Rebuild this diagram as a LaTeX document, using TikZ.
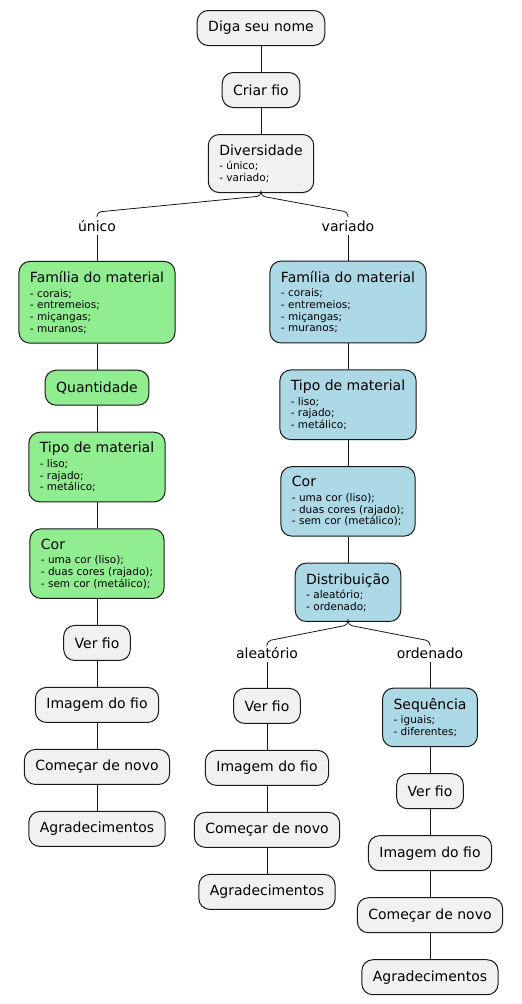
\documentclass[tikz,border=0pt]{standalone}
\usepackage{fontspec}
\setmainfont{DejaVu Sans}
\usetikzlibrary{positioning}
\definecolor{cinza}{HTML}{F1F1F1}
\definecolor{verde}{HTML}{90EE90}
\definecolor{azul}{HTML}{ADD8E6}
\definecolor{borda}{HTML}{181818}
\newcommand{\titulo}[1]{{\fontsize{14}{16}\selectfont #1}}

\begin{document}
\begin{tikzpicture}[
    x=1pt, y=-1pt,
    node distance=26pt,
    acao/.style={draw=borda, line width=1pt, fill=cinza, rounded corners=11pt, inner xsep=11pt, minimum height=35pt, font=\fontsize{14}{16}\selectfont},
    lista/.style={acao, align=left, inner ysep=10pt, font=\fontsize{10.5}{11.6}\selectfont},
    rotulo/.style={inner xsep=2pt, inner ysep=3pt, font=\fontsize{14}{16}\selectfont},
    liga/.style={draw=borda, line width=0.8pt}
]
\useasboundingbox (0,0) rectangle (522,1004);

% tronco
\node[acao] (nome) at (261,28) {Diga seu nome};
\node[acao, below=of nome] (criar) {Criar fio};
\node[lista, below=of criar] (div) {\titulo{Diversidade}\\[3pt] - único;\\ - variado;};

\node[rotulo] (unico) at (97,226) {único};
\node[rotulo] (variado) at (348,226) {variado};

% ramo único
\node[lista, fill=verde, below=of unico] (famU) {\titulo{Família do material}\\[3pt] - corais;\\ - entremeios;\\ - miçangas;\\ - muranos;};
\node[acao, fill=verde, below=of famU] (qtd) {Quantidade};
\node[lista, fill=verde, below=of qtd] (tipoU) {\titulo{Tipo de material}\\[3pt] - liso;\\ - rajado;\\ - metálico;};
\node[lista, fill=verde, below=of tipoU] (corU) {\titulo{Cor}\\[3pt] - uma cor (liso);\\ - duas cores (rajado);\\ - sem cor (metálico);};
\node[acao, below=of corU] (verU) {Ver fio};
\node[acao, below=of verU] (imgU) {Imagem do fio};
\node[acao, below=of imgU] (novoU) {Começar de novo};
\node[acao, below=of novoU] (agrU) {Agradecimentos};

% ramo variado
\node[lista, fill=azul, below=of variado] (famV) {\titulo{Família do material}\\[3pt] - corais;\\ - entremeios;\\ - miçangas;\\ - muranos;};
\node[lista, fill=azul, below=of famV] (tipoV) {\titulo{Tipo de material}\\[3pt] - liso;\\ - rajado;\\ - metálico;};
\node[lista, fill=azul, below=of tipoV] (corV) {\titulo{Cor}\\[3pt] - uma cor (liso);\\ - duas cores (rajado);\\ - sem cor (metálico);};
\node[lista, fill=azul, below=of corV] (dist) {\titulo{Distribuição}\\[3pt] - aleatório;\\ - ordenado;};

\node[rotulo] (aleat) at (267,653) {aleatório};
\node[rotulo] (orden) at (430,653) {ordenado};

\node[acao, below=of aleat] (verA) {Ver fio};
\node[acao, below=of verA] (imgA) {Imagem do fio};
\node[acao, below=of imgA] (novoA) {Começar de novo};
\node[acao, below=of novoA] (agrA) {Agradecimentos};

\node[lista, fill=azul, below=of orden] (seq) {\titulo{Sequência}\\[3pt] - iguais;\\ - diferentes;};
\node[acao, below=of seq] (verO) {Ver fio};
\node[acao, below=of verO] (imgO) {Imagem do fio};
\node[acao, below=of imgO] (novoO) {Começar de novo};
\node[acao, below=of novoO] (agrO) {Agradecimentos};

% ligacoes
\foreach \a/\b in {nome/criar, criar/div, unico/famU, famU/qtd, qtd/tipoU, tipoU/corU, corU/verU, verU/imgU, imgU/novoU, novoU/agrU,
    variado/famV, famV/tipoV, tipoV/corV, corV/dist, aleat/verA, verA/imgA, imgA/novoA, novoA/agrA,
    orden/seq, seq/verO, verO/imgO, imgO/novoO, novoO/agrO}
  \draw[liga] (\a) -- (\b);

\coordinate[below=19pt of div.south] (ramo1);
\coordinate[below=19pt of dist.south] (ramo2);
\draw[liga, rounded corners=4pt] (div.south) -- ++(0,3) -- (ramo1 -| unico) -- (unico.north);
\draw[liga, rounded corners=4pt] (div.south) -- ++(0,3) -- (ramo1 -| variado) -- (variado.north);
\draw[liga, rounded corners=4pt] (dist.south) -- ++(0,3) -- (ramo2 -| aleat) -- (aleat.north);
\draw[liga, rounded corners=4pt] (dist.south) -- ++(0,3) -- (ramo2 -| orden) -- (orden.north);

\end{tikzpicture}
\end{document}
